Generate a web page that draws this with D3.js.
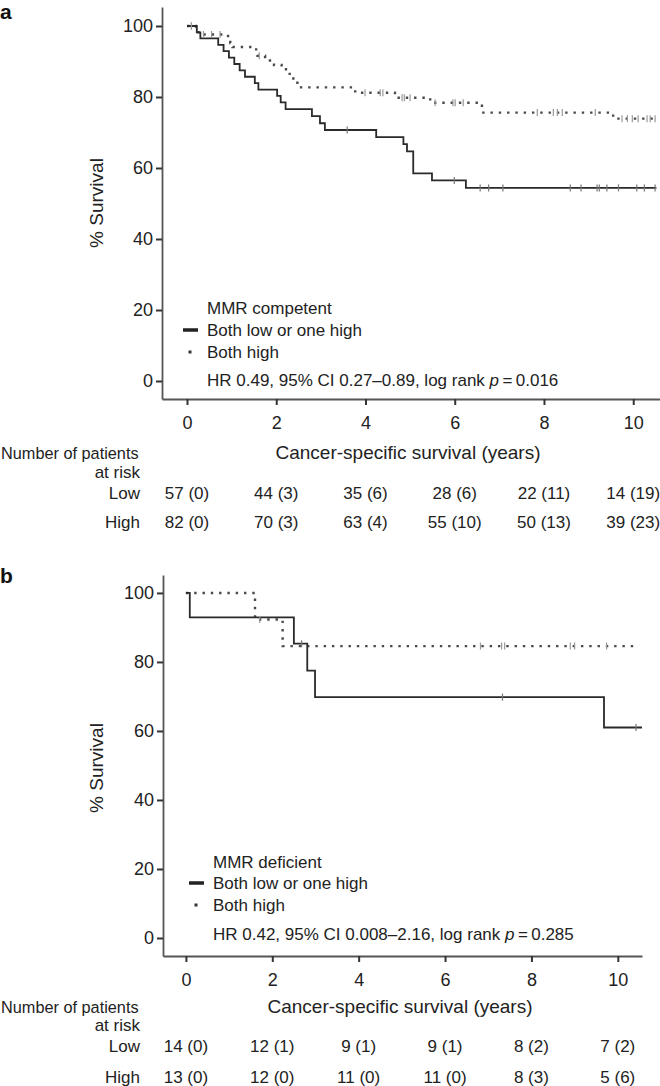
<!DOCTYPE html>
<html>
<head>
<meta charset="utf-8">
<script src="https://cdn.jsdelivr.net/npm/d3@7"></script>
<style>
  body { margin: 0; background: #fff; }
  svg { display: block; font-family: "Liberation Sans", Arial, sans-serif; }
</style>
</head>
<body>
<svg id="chart" width="660" height="1086"></svg>
<script>
// x-axis ticks (years)
const years = [0, 2, 4, 6, 8, 10];

// panel a: MMR competent. steps are [time, % survival after the drop]
const aLowSteps = [[0, 100], [0.22, 98.2], [0.3, 96.5], [0.7, 94.7], [0.82, 92.9], [0.94, 91.1],
  [1.06, 89.3], [1.18, 87.5], [1.3, 85.7], [1.52, 83.9], [1.6, 82.1], [2.02, 80.3], [2.1, 78.5],
  [2.21, 76.6], [2.8, 74.6], [2.98, 72.6], [3.09, 70.7], [4.24, 68.7], [4.85, 66.7], [4.93, 64.7],
  [5.07, 58.5], [5.49, 56.5], [6.25, 54.4], [10.52, 54.4]];
const aLowCensor = [0.1, 3.59, 5.99, 6.57, 6.76, 7.08, 8.59, 8.83, 9.19, 9.24, 9.41, 9.67, 10.08, 10.25, 10.49];
const aHighSteps = [[0, 100], [0.2, 98.8], [0.26, 97.6], [0.92, 96.4], [0.97, 95.2], [1.02, 94.1],
  [1.55, 92.8], [1.58, 91.6], [1.75, 90.3], [1.95, 89.0], [2.12, 87.8], [2.25, 86.5], [2.33, 85.2],
  [2.42, 84.0], [2.52, 82.7], [3.77, 81.2], [4.66, 79.8], [5.45, 78.4], [6.61, 75.6], [9.55, 73.9],
  [10.5, 73.9]];
const aHighCensor = [0.1, 0.37, 0.55, 0.74, 1.62, 3.99, 4.33, 4.39, 4.82, 4.87, 5.0, 5.56, 5.96, 6.01,
  6.19, 7.85, 8.21, 8.30, 8.41, 9.15, 9.75, 9.87, 9.98, 10.11, 10.31, 10.38, 10.49];
const aRiskLow = ["57 (0)", "44 (3)", "35 (6)", "28 (6)", "22 (11)", "14 (19)"];
const aRiskHigh = ["82 (0)", "70 (3)", "63 (4)", "55 (10)", "50 (13)", "39 (23)"];

// panel b: MMR deficient
const bLowSteps = [[0, 100], [0.09, 92.9], [2.5, 85.3], [2.81, 77.5], [2.99, 69.8], [9.68, 61.0], [10.56, 61.0]];
const bLowCensor = [2.68, 7.33, 10.42];
const bHighSteps = [[0, 100], [1.6, 92.3], [2.24, 84.6], [10.44, 84.6]];
const bHighCensor = [1.71, 6.82, 7.31, 7.38, 8.90, 9.0, 9.74];
const bRiskLow = ["14 (0)", "12 (1)", "9 (1)", "9 (1)", "8 (2)", "7 (2)"];
const bRiskHigh = ["13 (0)", "12 (0)", "11 (0)", "11 (0)", "8 (3)", "5 (6)"];

const yTicks = [0, 20, 40, 60, 80, 100];

const svg = d3.select("#chart");
const ink = "#222";

function survAt(steps, t) {
  let s = steps[0][1];
  for (const d of steps) { if (d[0] <= t) s = d[1]; }
  return s;
}

function drawPanel(p) {
  const g = svg.append("g");
  const x = d3.scaleLinear().domain(p.xDom).range(p.xRange);
  const y = d3.scaleLinear().domain(p.yDom).range(p.yRange);

  // panel letter
  g.append("text").attr("x", 0).attr("y", p.letterY)
    .attr("font-size", 21).attr("font-weight", "bold").attr("fill", "#111").text(p.letter);

  // axes
  const xAxis = g.append("g").attr("transform", `translate(0,${p.yRange[0]})`)
    .call(d3.axisBottom(x).tickValues(years).tickSize(6).tickSizeOuter(0).tickPadding(11));
  const yAxis = g.append("g").attr("transform", `translate(${p.xRange[0]},0)`)
    .call(d3.axisLeft(y).tickValues(yTicks).tickSize(6).tickSizeOuter(0).tickPadding(3));
  [xAxis, yAxis].forEach(a => {
    a.select(".domain").attr("stroke", "#555").attr("stroke-width", 1.8);
    a.selectAll(".tick line").attr("stroke", "#333").attr("stroke-width", 2);
    a.selectAll(".tick text").attr("font-size", 18).attr("fill", ink)
      .attr("font-family", "'Liberation Sans', Arial, sans-serif");
  });

  // axis titles
  g.append("text").attr("transform", `translate(103,${p.yTitleY}) rotate(-90)`)
    .attr("text-anchor", "middle").attr("font-size", 19).attr("fill", ink).text("% Survival");
  g.append("text").attr("x", p.xTitleX).attr("y", p.titleY)
    .attr("text-anchor", "middle").attr("font-size", 19).attr("fill", ink)
    .text("Cancer-specific survival (years)");

  // survival curves
  const line = d3.line().x(d => x(d[0])).y(d => y(d[1])).curve(d3.curveStepAfter);
  g.append("path").datum(p.highSteps).attr("d", line).attr("fill", "none")
    .attr("stroke", "#4a4a4a").attr("stroke-width", 2.4).attr("stroke-dasharray", "2.4,5.9");
  g.append("path").datum(p.lowSteps).attr("d", line).attr("fill", "none")
    .attr("stroke", "#2a2a2a").attr("stroke-width", 1.8);

  // censor marks
  g.selectAll(".cl").data(p.lowCensor).join("line")
    .attr("x1", d => x(d)).attr("x2", d => x(d))
    .attr("y1", d => y(survAt(p.lowSteps, d)) - 3.5).attr("y2", d => y(survAt(p.lowSteps, d)) + 3.5)
    .attr("stroke", "#777").attr("stroke-width", 1.2);
  g.selectAll(".ch").data(p.highCensor).join("line")
    .attr("x1", d => x(d)).attr("x2", d => x(d))
    .attr("y1", d => y(survAt(p.highSteps, d)) - 3.5).attr("y2", d => y(survAt(p.highSteps, d)) + 3.5)
    .attr("stroke", "#999").attr("stroke-width", 1.2);

  // legend
  const lg = g.append("g").attr("font-size", 17).attr("fill", ink);
  lg.append("text").attr("x", p.legX).attr("y", p.legY[0]).text(p.group);
  lg.append("line").attr("x1", p.legX - 24).attr("x2", p.legX - 9)
    .attr("y1", p.legY[1] - 6).attr("y2", p.legY[1] - 6).attr("stroke", ink).attr("stroke-width", 3.5);
  lg.append("text").attr("x", p.legX).attr("y", p.legY[1]).text("Both low or one high");
  lg.append("rect").attr("x", p.legX - 18.5).attr("y", p.legY[2] - 7.5).attr("width", 3).attr("height", 3)
    .attr("fill", "#333");
  lg.append("text").attr("x", p.legX).attr("y", p.legY[2]).text("Both high");
  const hr = lg.append("text").attr("x", p.legX).attr("y", p.legY[3]);
  hr.append("tspan").text(p.hr);
  hr.append("tspan").attr("font-style", "italic").text("p");
  hr.append("tspan").text("\u2009=\u2009" + p.pval);

  // number at risk table
  const rt = g.append("g").attr("font-size", 17).attr("fill", ink);
  rt.append("text").attr("x", 1).attr("y", p.titleY).attr("font-size", 16.3).text("Number of patients");
  rt.append("text").attr("x", 140).attr("y", p.riskY[0]).attr("text-anchor", "end").text("at risk");
  rt.append("text").attr("x", 140).attr("y", p.riskY[1]).attr("text-anchor", "end").text("Low");
  rt.append("text").attr("x", 140).attr("y", p.riskY[2]).attr("text-anchor", "end").text("High");
  rt.selectAll(".rl").data(p.riskLow).join("text")
    .attr("x", (d, i) => x(years[i])).attr("y", p.riskY[1]).attr("text-anchor", "middle").text(d => d);
  rt.selectAll(".rh").data(p.riskHigh).join("text")
    .attr("x", (d, i) => x(years[i])).attr("y", p.riskY[2]).attr("text-anchor", "middle").text(d => d);
}

drawPanel({
  letter: "a", letterY: 19,
  xDom: [-0.56, 10.6], xRange: [162, 660],
  yDom: [-5.07, 105.35], yRange: [399, 7],
  yTitleY: 203, xTitleX: 408, titleY: 459,
  lowSteps: aLowSteps, highSteps: aHighSteps, lowCensor: aLowCensor, highCensor: aHighCensor,
  group: "MMR competent", legX: 207, legY: [314, 336, 358, 386],
  hr: "HR 0.49, 95% CI 0.27\u20130.89, log rank ", pval: "0.016",
  riskLow: aRiskLow, riskHigh: aRiskHigh, riskY: [478, 499, 528]
});

drawPanel({
  letter: "b", letterY: 583,
  xDom: [-0.53, 10.56], xRange: [163, 642],
  yDom: [-5.22, 105.2], yRange: [956, 575],
  yTitleY: 768, xTitleX: 400, titleY: 1013,
  lowSteps: bLowSteps, highSteps: bHighSteps, lowCensor: bLowCensor, highCensor: bHighCensor,
  group: "MMR deficient", legX: 213, legY: [868, 889, 911, 940],
  hr: "HR 0.42, 95% CI 0.008\u20132.16, log rank ", pval: "0.285",
  riskLow: bRiskLow, riskHigh: bRiskHigh, riskY: [1031, 1052, 1083]
});
</script>
</body>
</html>
